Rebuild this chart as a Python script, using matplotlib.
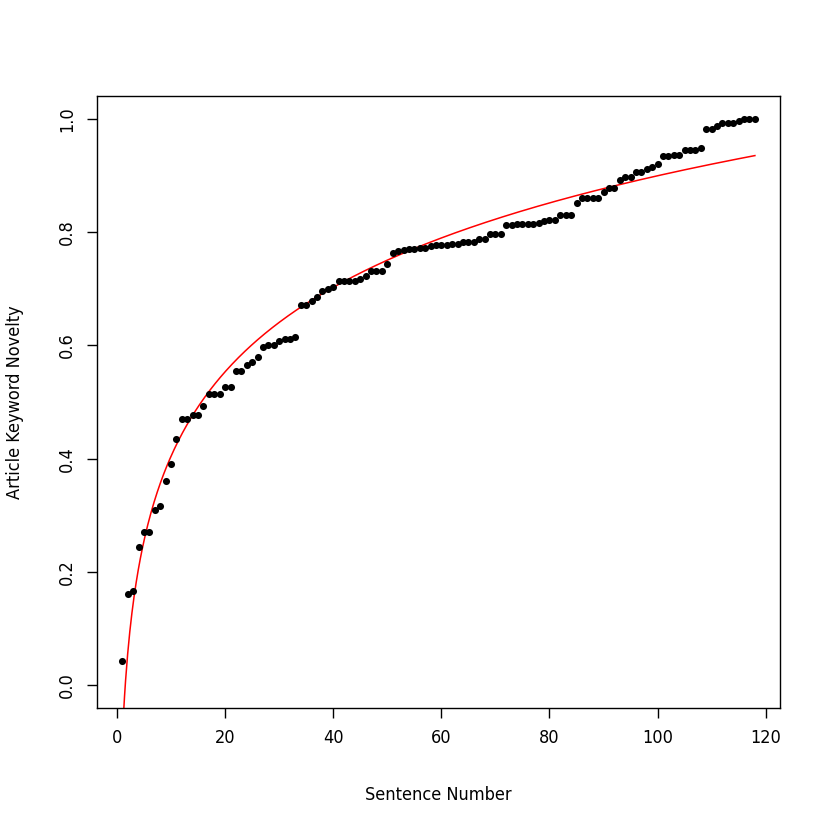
import numpy as np
import matplotlib
matplotlib.use("Agg")
import matplotlib.pyplot as plt
from matplotlib import font_manager

# sentence index and cumulative keyword novelty
sentence = np.arange(1, 119)
novelty = [
    0.043, 0.162, 0.167, 0.245, 0.270, 0.270, 0.310, 0.316, 0.360, 0.390,
    0.435, 0.470, 0.470, 0.478, 0.478, 0.493, 0.515, 0.515, 0.515, 0.526,
    0.526, 0.555, 0.555, 0.566, 0.571, 0.580, 0.597, 0.600, 0.600, 0.608,
    0.611, 0.611, 0.615, 0.672, 0.672, 0.678, 0.685, 0.696, 0.700, 0.704,
    0.713, 0.713, 0.713, 0.713, 0.718, 0.722, 0.731, 0.731, 0.731, 0.744,
    0.763, 0.767, 0.768, 0.770, 0.770, 0.773, 0.773, 0.775, 0.777, 0.778,
    0.778, 0.780, 0.780, 0.782, 0.783, 0.783, 0.788, 0.788, 0.797, 0.797,
    0.797, 0.812, 0.813, 0.814, 0.814, 0.815, 0.815, 0.817, 0.820, 0.822,
    0.822, 0.830, 0.831, 0.831, 0.852, 0.860, 0.860, 0.860, 0.860, 0.871,
    0.878, 0.878, 0.893, 0.897, 0.897, 0.907, 0.907, 0.911, 0.915, 0.920,
    0.934, 0.934, 0.937, 0.937, 0.945, 0.945, 0.945, 0.949, 0.982, 0.982,
    0.987, 0.993, 0.993, 0.993, 0.997, 1.000, 1.000, 1.000,
]
novelty = np.array(novelty)

xticks = [0, 20, 40, 60, 80, 100, 120]
yticks = [0.0, 0.2, 0.4, 0.6, 0.8, 1.0]

#pick a narrow font if there is one
names = {f.name for f in font_manager.fontManager.ttflist}
fam = "Liberation Sans Narrow" if "Liberation Sans Narrow" in names else "DejaVu Sans"
plt.rcParams["font.family"] = fam
plt.rcParams["font.stretch"] = "condensed"
plt.rcParams["font.size"] = 13

fig = plt.figure(figsize=(8.3, 8.3), dpi=100)
ax = fig.add_axes([0.117, 0.147, 0.823, 0.737])

#log fit y = a + b*log(x), like lm(y ~ log(x))
b, a = np.polyfit(np.log(sentence), novelty, 1)
xs = np.linspace(1, 118, 600)
ax.plot(xs, a + b * np.log(xs), color="red", lw=1.1, zorder=2)

ax.scatter(sentence, novelty, s=26, color="black", zorder=3, linewidths=0)

ax.set_xlim(-3.68, 122.68)
ax.set_ylim(-0.04, 1.04)
ax.set_xticks(xticks)
ax.set_yticks(yticks)
ax.set_xticklabels([str(t) for t in xticks])
ax.set_yticklabels([f"{t:.1f}" for t in yticks], rotation=90, va="center")
ax.tick_params(direction="out", length=7, width=1, pad=8)
for s in ax.spines.values():
    s.set_linewidth(1)

ax.set_xlabel("Sentence Number", labelpad=28)
ax.set_ylabel("Article Keyword Novelty", labelpad=25)

plt.savefig("out.png", dpi=100)
